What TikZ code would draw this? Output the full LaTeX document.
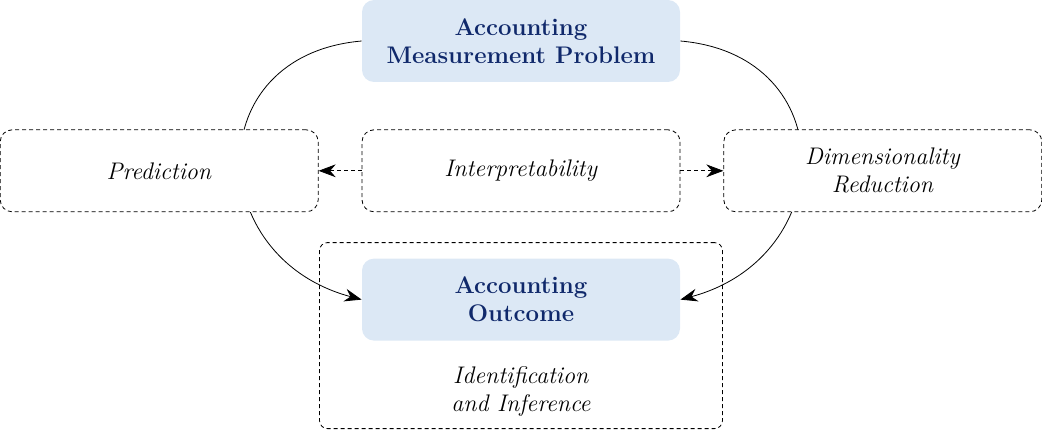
\documentclass[tikz,border=0pt]{standalone}
\usepackage{xcolor}
\usepackage{tikz}
\usetikzlibrary{positioning, arrows.meta, backgrounds}
\definecolor{acnavy}{HTML}{10296B}
\definecolor{acblue}{HTML}{DCE8F5}

\begin{document}
\begin{tikzpicture}[font=\large]
  \useasboundingbox (0,0) rectangle (521pt,-216.5pt);
  \node[fill=acblue, rounded corners=6pt, minimum width=159pt, minimum height=41pt,
        align=center, text=acnavy, font=\large\bfseries] (problem) at (260.5pt,-20.5pt)
    {Accounting\\Measurement Problem};
  \node[draw, dash pattern=on 2pt off 1.5pt, rounded corners=6pt, minimum width=159pt,
        minimum height=41pt, align=center, below=23.5pt of problem] (interp)
    {\textit{Interpretability}};
  \node[draw, dash pattern=on 2pt off 1.5pt, rounded corners=6pt, minimum width=159pt,
        minimum height=41pt, align=center, left=21.5pt of interp, fill=white] (pred)
    {\textit{Prediction}};
  \node[draw, dash pattern=on 2pt off 1.5pt, rounded corners=6pt, minimum width=159pt,
        minimum height=41pt, align=center, right=21.5pt of interp, fill=white] (dimred)
    {\textit{Dimensionality}\\\textit{Reduction}};
  \node[draw, dash pattern=on 2pt off 1.5pt, rounded corners=4pt, minimum width=201.5pt,
        minimum height=93pt, below=15pt of interp] (frame) {};
  \node[fill=acblue, rounded corners=6pt, minimum width=159pt, minimum height=41pt,
        align=center, text=acnavy, font=\large\bfseries, below=8pt of frame.north] (outcome)
    {Accounting\\Outcome};
  \node[align=center, above=3pt of frame.south] (ident)
    {\textit{Identification}\\\textit{and Inference}};
  \begin{scope}[on background layer]
    \draw[-{Stealth[length=3mm]}] (problem.west) to[out=185, in=165, looseness=1.62] (outcome.west);
    \draw[-{Stealth[length=3mm]}] (problem.east) to[out=-5, in=15, looseness=1.62] (outcome.east);
  \end{scope}
  \draw[-{Stealth[length=3mm]}, dash pattern=on 2pt off 1.5pt] (interp) -- (pred);
  \draw[-{Stealth[length=3mm]}, dash pattern=on 2pt off 1.5pt] (interp) -- (dimred);
\end{tikzpicture}
\end{document}
